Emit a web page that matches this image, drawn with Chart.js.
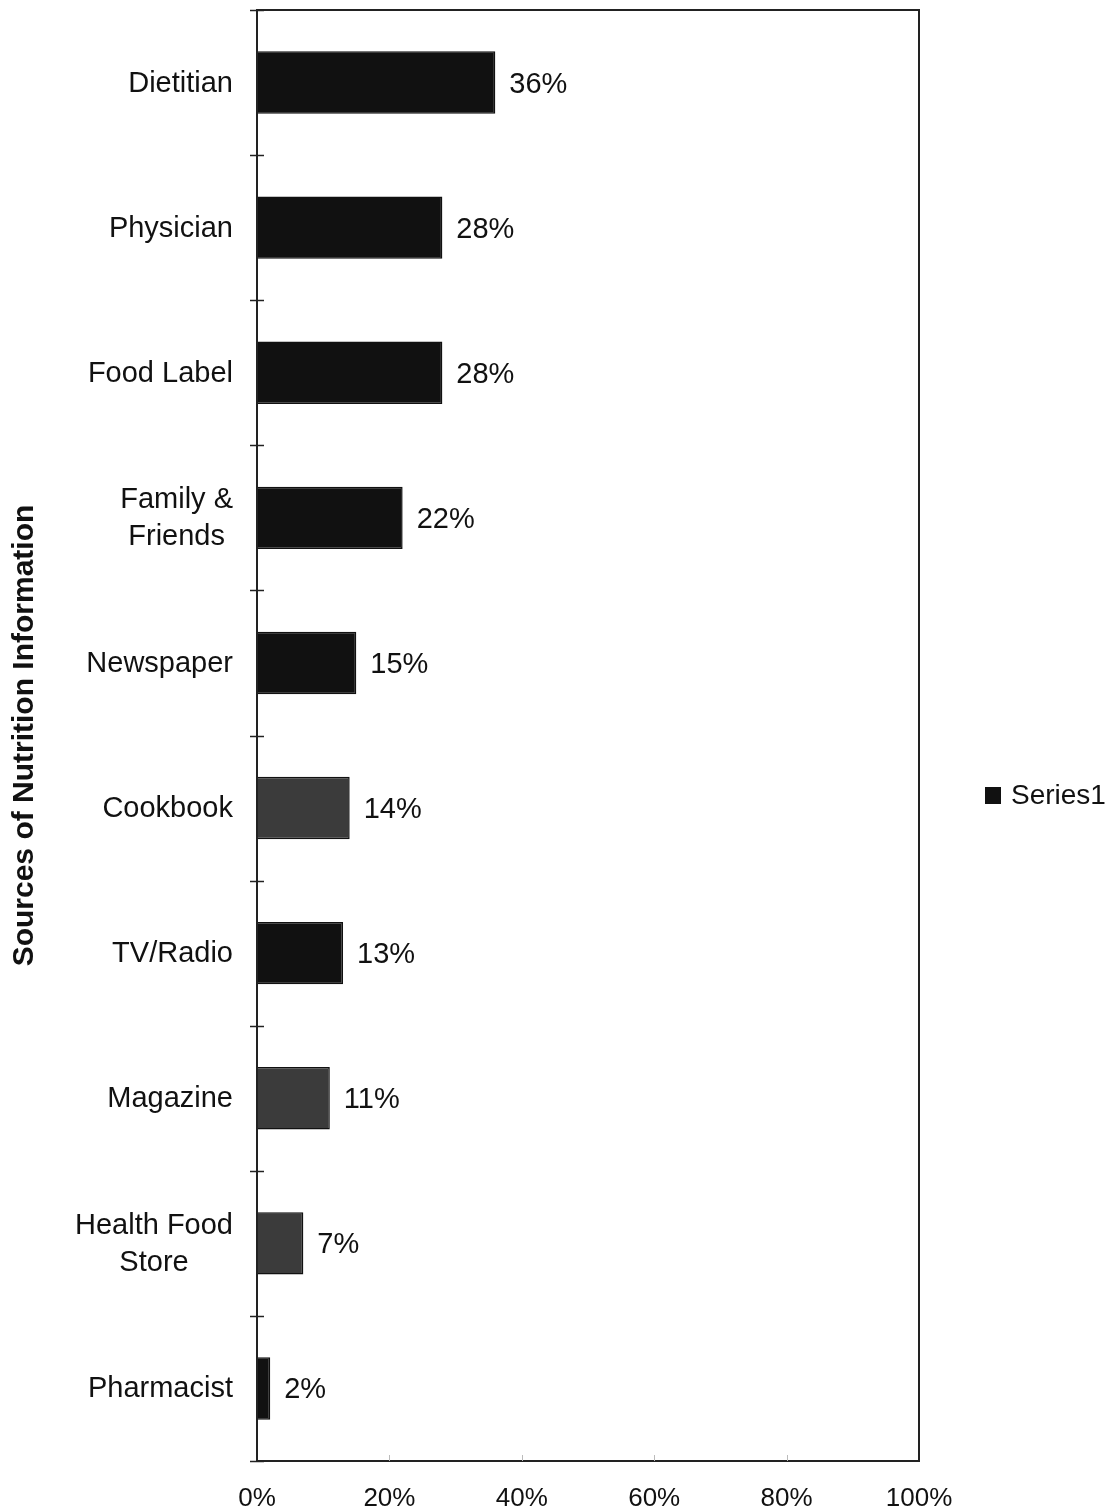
<!DOCTYPE html>
<html>
<head>
<meta charset="utf-8">
<script src="https://cdn.jsdelivr.net/npm/chart.js@4.4.1/dist/chart.umd.min.js"></script>
<style>
  html, body { margin: 0; padding: 0; background: #fff; }
  #wrap { width: 1117px; height: 1511px; }
</style>
</head>
<body>
<div id="wrap"><canvas id="c" width="1117" height="1511"></canvas></div>
<script>
// Survey: where respondents get nutrition information
const categories = ['Dietitian', 'Physician', 'Food Label', ['Family &', 'Friends'], 'Newspaper',
                    'Cookbook', 'TV/Radio', 'Magazine', ['Health Food', 'Store'], 'Pharmacist'];
const shares = [36, 28, 28, 22, 15, 14, 13, 11, 7, 2];
const barColors = ['#111111', '#111111', '#111111', '#111111', '#111111',
                   '#3b3b3b', '#111111', '#3b3b3b', '#3b3b3b', '#111111'];
const xTickValues = [0, 20, 40, 60, 80, 100];
const seriesName = 'Series1';
const axisTitle = 'Sources of Nutrition Information';

const FONT = '"Liberation Sans", Arial, sans-serif';
const INK = '#111111';

// Frame, cross ticks, category labels, value labels and legend
const decor = {
  id: 'decor',
  afterDatasetsDraw(chart) {
    const { ctx, chartArea: a, scales: { x, y } } = chart;
    ctx.save();

    ctx.strokeStyle = '#222';
    ctx.lineWidth = 2;
    ctx.strokeRect(a.left, a.top, a.right - a.left, a.bottom - a.top);

    const n = categories.length;
    const step = (a.bottom - a.top) / n;
    ctx.lineWidth = 1.5;
    for (let i = 0; i <= n; i++) {
      const yy = Math.round(a.top + i * step) + 0.5;
      ctx.beginPath();
      ctx.moveTo(a.left - 7, yy);
      ctx.lineTo(a.left + 7, yy);
      ctx.stroke();
    }

    // faint inward ticks on the value axis
    ctx.strokeStyle = '#bbb';
    ctx.lineWidth = 1;
    xTickValues.slice(1, -1).forEach(v => {
      const xx = Math.round(x.getPixelForValue(v)) + 0.5;
      ctx.beginPath();
      ctx.moveTo(xx, a.bottom);
      ctx.lineTo(xx, a.bottom - 6);
      ctx.stroke();
    });

    ctx.font = '29px ' + FONT;
    ctx.fillStyle = INK;
    ctx.textBaseline = 'middle';
    ctx.textAlign = 'center';
    categories.forEach((c, i) => {
      const lines = Array.isArray(c) ? c : [c];
      const w = Math.max(...lines.map(l => ctx.measureText(l).width));
      const cx = a.left - 24 - w / 2;
      const cy = y.getPixelForValue(i) + 1;
      lines.forEach((l, j) => ctx.fillText(l, cx, cy + (j - (lines.length - 1) / 2) * 37));
    });

    const meta = chart.getDatasetMeta(0);
    ctx.textAlign = 'left';
    meta.data.forEach((bar, i) => {
      ctx.fillText(shares[i] + '%', bar.x + 14, bar.y + 2);
    });

    // legend
    ctx.fillStyle = INK;
    ctx.fillRect(985, 787, 16, 17);
    ctx.font = '28px ' + FONT;
    ctx.fillText(seriesName, 1011, 796);

    ctx.restore();
  }
};

new Chart(document.getElementById('c'), {
  type: 'bar',
  data: {
    labels: categories,
    datasets: [{
      label: seriesName,
      data: shares,
      backgroundColor: barColors,
      borderColor: '#111111',
      borderWidth: 1.5,
      barPercentage: 0.43,
      categoryPercentage: 1.0
    }]
  },
  options: {
    indexAxis: 'y',
    responsive: false,
    animation: false,
    devicePixelRatio: 1,
    layout: { padding: { top: 10, right: 198, left: 0, bottom: 0 } },
    plugins: {
      legend: { display: false },
      tooltip: { enabled: false }
    },
    scales: {
      x: {
        type: 'linear',
        min: 0,
        max: 100,
        afterBuildTicks(s) { s.ticks = xTickValues.map(v => ({ value: v })); },
        afterFit(s) { s.height = 50; },
        grid: { display: false },
        border: { display: false },
        ticks: {
          callback: v => v + '%',
          font: { size: 26, family: FONT },
          color: INK,
          padding: 14
        }
      },
      y: {
        type: 'category',
        afterFit(s) { s.width = 257; },
        grid: { display: false },
        border: { display: false },
        ticks: { display: false },
        title: {
          display: true,
          text: axisTitle,
          font: { size: 30, weight: 'bold', family: FONT },
          color: INK,
          padding: { top: 7, bottom: 0 }
        }
      }
    }
  },
  plugins: [decor]
});
</script>
</body>
</html>
